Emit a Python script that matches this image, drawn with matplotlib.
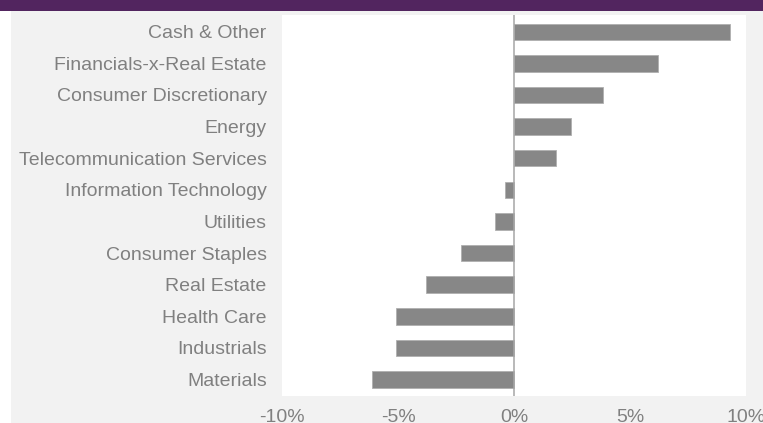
import matplotlib
matplotlib.use("Agg")
import matplotlib.pyplot as plt
from matplotlib.patches import Rectangle

plt.rcParams['font.family'] = ['Liberation Sans', 'DejaVu Sans']

sectors = ['Cash & Other', 'Financials-x-Real Estate', 'Consumer Discretionary', 'Energy',
           'Telecommunication Services', 'Information Technology', 'Utilities',
           'Consumer Staples', 'Real Estate', 'Health Care', 'Industrials', 'Materials']
weights = [9.3, 6.2, 3.85, 2.45, 1.8, -0.4, -0.8, -2.3, -3.8, -5.1, -5.1, -6.1]
xticks = [-10, -5, 0, 5, 10]

W, H = 763, 423
fig = plt.figure(figsize=(W / 100, H / 100), dpi=100, facecolor='#f2f2f2')

# white strip at the left edge and purple banner along the top
fig.patches.append(Rectangle((0, 0), 11 / W, 1, transform=fig.transFigure,
                             facecolor='white', edgecolor='none', zorder=0))
fig.patches.append(Rectangle((0, 1 - 11 / H), 1, 11 / H, transform=fig.transFigure,
                             facecolor='#52255f', edgecolor='none', zorder=1))

ax = fig.add_axes([282 / W, 1 - 396 / H, (746 - 282) / W, (396 - 15) / H])
ax.set_facecolor('white')

pos = list(range(len(sectors)))[::-1]
ax.barh(pos, weights, height=0.52, color='#878787', edgecolor='#b0b0b0', linewidth=0.6, zorder=2)
ax.axvline(0, color='#a6a6a6', linewidth=1.1, zorder=3)

ax.set_xlim(-10, 10)
ax.set_ylim(-0.52, len(sectors) - 0.47)
ax.set_yticks(pos)
ax.set_yticklabels(sectors)
ax.set_xticks(xticks)
ax.set_xticklabels([f'{t}%' for t in xticks])
ax.tick_params(axis='y', length=0, pad=11, labelsize=14, labelcolor='#808080')
ax.tick_params(axis='x', length=0, pad=9.5, labelsize=14, labelcolor='#808080')
for s in ax.spines.values():
    s.set_visible(False)

fig.savefig('out.png', dpi=100, facecolor=fig.get_facecolor())
